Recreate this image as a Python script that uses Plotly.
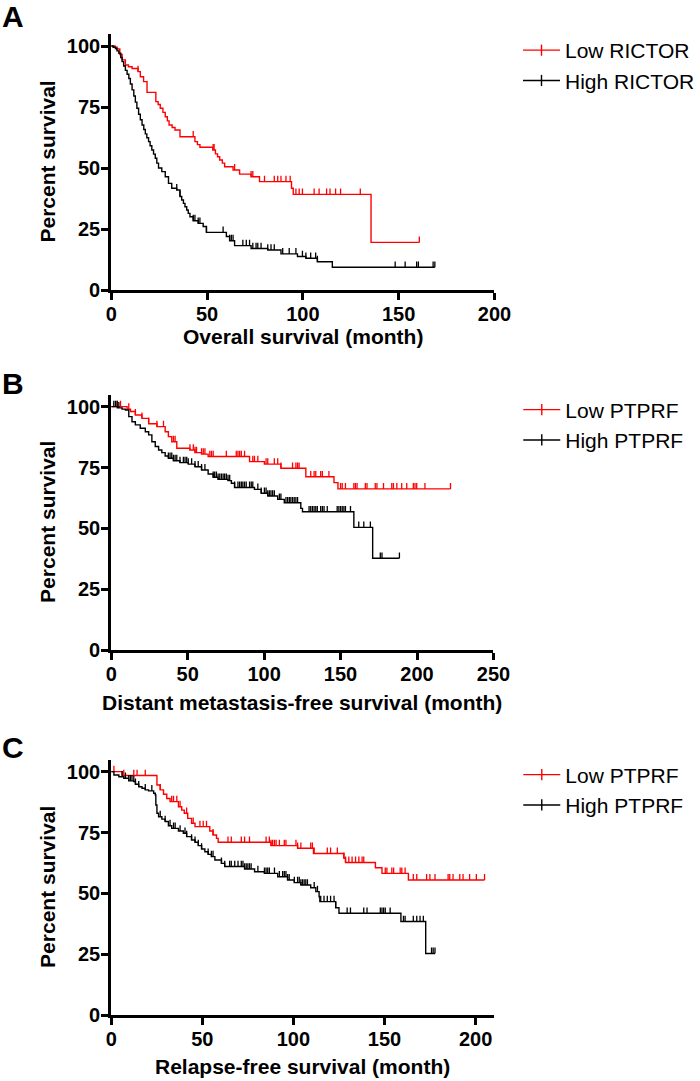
import numpy as np
import plotly.graph_objects as go

# ---------------- DATA ----------------
# Panel A: overall survival, RICTOR
A_low_t = [2.0, 3.1, 4.5, 5.7, 7.4, 9.0, 10.9, 14.0, 15.2, 16.9, 18.7, 23.3, 24.5, 25.6, 27.0, 28.2, 29.3, 30.2,
           31.8, 33.3, 35.9, 43.7, 45.0, 46.3, 53.0, 54.4, 55.5, 56.6, 58.0, 59.2, 63.6, 67.0, 73.0, 77.4, 94.1,
           95.0, 135.6]
A_low_s = [99.5, 98.8, 96.5, 94.3, 92.2, 91.5, 90.8, 89.5, 87.4, 85.4, 81.0, 77.2, 76.0, 74.5, 72.8, 71.0, 69.3,
           67.6, 66.6, 65.6, 62.8, 60.8, 59.6, 58.5, 57.4, 55.8, 54.6, 53.3, 52.0, 50.5, 49.2, 47.5, 46.4, 44.4,
           41.7, 39.2, 19.5]
A_low_cens = [14.0, 42.8, 53.2, 53.7, 64.4, 73.0, 73.9, 80.0, 85.1, 86.9, 88.6, 91.2, 93.4, 96.4, 98.1, 99.8,
              105.9, 108.5, 112.4, 114.2, 117.1, 119.7, 130.0, 160.8]

A_high_t = [1.0, 2.2, 3.0, 4.0, 5.0, 5.7, 6.5, 7.4, 8.3, 9.2, 10.0, 10.9, 11.8, 12.6, 13.4, 14.3, 15.2, 16.1,
            17.0, 17.8, 18.6, 19.5, 20.3, 21.2, 22.1, 23.0, 23.8, 24.7, 26.4, 28.2, 29.9, 31.6, 34.2, 35.9, 36.8,
            37.7, 38.5, 39.4, 40.2, 41.1, 42.8, 45.4, 48.0, 49.7, 60.1, 61.8, 64.4, 73.0, 81.7, 88.6, 97.2,
            101.6, 107.6, 115.4]
A_high_s = [99.5, 99.0, 98.0, 97.0, 95.3, 93.6, 91.8, 90.0, 88.4, 86.7, 84.4, 82.0, 79.5, 77.0, 74.5, 72.0,
            69.8, 67.6, 65.8, 64.0, 62.4, 60.8, 59.1, 57.4, 55.7, 54.0, 52.0, 50.0, 48.5, 46.4, 43.7, 41.7, 41.0,
            38.3, 36.9, 35.5, 34.1, 32.8, 31.4, 30.0, 28.4, 27.3, 26.0, 23.6, 21.9, 20.2, 18.2, 17.0, 16.4, 14.8,
            13.7, 13.0, 11.6, 9.3]
A_high_cens = [34.2, 35.9, 42.8, 43.7, 45.4, 46.3, 49.7, 58.4, 61.8, 62.7, 63.6, 68.7, 70.5, 72.2, 73.9, 75.6,
               76.5, 78.2, 81.7, 83.4, 85.1, 89.5, 92.9, 96.4, 99.8, 101.6, 104.1, 106.7, 107.6, 148.2, 153.4,
               159.4, 160.3, 168.0, 168.9]

# Panel B: distant metastasis-free survival, PTPRF
B_low_t = [10.4, 12.6, 15.8, 20.1, 24.5, 29.9, 35.3, 37.4, 39.6, 42.9, 51.5, 54.8, 59.1, 63.4, 90.5, 100.2,
           111.0, 127.3, 145.7, 148.3]
B_low_s = [99.0, 98.0, 96.6, 95.2, 93.0, 91.8, 89.7, 87.7, 85.6, 82.9, 82.2, 81.1, 80.5, 79.5, 77.4, 76.4, 74.7,
           71.2, 68.8, 66.2]
B_low_cens = [3.9, 6.1, 11.5, 15.8, 20.1, 24.5, 29.9, 34.2, 40.7, 41.8, 51.5, 53.7, 54.8, 55.8, 59.1, 60.2, 61.3,
              64.5, 65.6, 66.7, 75.3, 81.8, 82.9, 84.0, 85.1, 87.2, 92.6, 93.7, 95.9, 101.3, 102.4, 106.7, 108.9,
              111.0, 118.6, 120.8, 121.9, 122.9, 130.5, 132.7, 133.8, 137.0, 138.1, 142.4, 150.0, 151.1, 153.2,
              158.7, 159.7, 160.8, 166.2, 167.3, 172.7, 173.8, 178.1, 183.5, 184.6, 186.8, 190.0, 193.3, 197.6,
              198.7, 199.8, 205.2, 221.9]

B_high_t = [4.0, 7.1, 9.3, 11.5, 13.6, 15.8, 19.0, 22.3, 24.5, 26.6, 28.8, 31.0, 33.1, 35.3, 37.4, 40.7, 45.0,
            50.4, 54.8, 59.1, 63.4, 66.7, 69.9, 76.4, 78.6, 80.7, 93.7, 98.1, 102.4, 108.9, 113.2, 124.0, 125.1,
            158.7, 171.0]
B_high_s = [99.5, 99.0, 98.6, 95.9, 93.8, 92.5, 91.1, 89.7, 88.4, 85.6, 83.6, 82.2, 81.1, 79.7, 78.8, 77.8, 77.0,
            76.4, 75.3, 74.0, 72.3, 71.0, 70.1, 69.6, 68.5, 66.8, 66.0, 64.4, 63.3, 61.9, 60.5, 58.2, 56.8, 50.4,
            37.7]
B_high_cens = [1.7, 2.8, 3.9, 5.0, 37.4, 38.5, 39.6, 40.7, 41.8, 42.9, 45.0, 47.2, 48.3, 49.4, 50.4, 52.6, 54.8,
               56.9, 59.1, 61.3, 66.7, 67.7, 68.8, 69.9, 71.0, 72.1, 73.2, 74.2, 75.3, 76.4, 77.5, 80.7, 82.9, 84.0,
               85.1, 86.1, 87.2, 88.3, 90.5, 91.6, 92.6, 95.9, 98.1, 100.2, 101.3, 102.4, 103.5, 104.5, 105.6,
               106.7, 110.0, 111.0, 114.3, 115.4, 116.5, 117.5, 118.6, 119.7, 120.8, 121.9, 129.4, 130.5, 131.6,
               132.7, 133.8, 134.8, 137.0, 138.1, 139.2, 141.3, 147.8, 148.9, 150.0, 151.1, 152.2, 153.2, 156.5,
               161.9, 165.2, 169.5, 176.0, 177.1, 188.5]

# Panel C: relapse-free survival, PTPRF
C_low_t = [6.0, 25.1, 26.9, 28.7, 30.5, 32.3, 36.9, 38.7, 40.1, 42.0, 44.1, 46.0, 54.1, 55.9, 57.8, 58.7, 87.7,
           102.3, 111.0, 127.7, 128.6, 145.0, 148.6, 163.1]
C_low_s = [98.4, 94.5, 92.5, 90.7, 89.0, 87.7, 85.6, 84.2, 82.9, 80.8, 78.8, 77.4, 75.6, 74.0, 72.6, 71.0, 69.6,
           68.5, 66.4, 64.4, 62.7, 60.5, 58.2, 55.5]
C_low_cens = [1.5, 6.9, 12.4, 14.2, 18.7, 26.9, 33.2, 34.2, 36.0, 37.8, 41.4, 45.0, 48.7, 50.5, 52.3, 55.9, 64.1,
              65.9, 71.4, 73.2, 75.9, 85.0, 86.8, 87.7, 88.6, 89.6, 90.5, 92.3, 95.0, 95.9, 101.4, 102.3, 104.1,
              109.5, 110.4, 111.4, 118.6, 120.4, 124.1, 127.7, 128.6, 130.4, 132.2, 134.1, 135.9, 137.7, 138.6,
              150.4, 151.3, 154.0, 155.0, 158.6, 159.5, 161.3, 165.8, 167.7, 173.1, 174.9, 177.7, 184.9, 185.8,
              187.6, 191.3, 193.1, 196.7, 200.4, 204.9]

C_high_t = [1.5, 4.2, 6.9, 9.6, 12.4, 13.3, 15.1, 16.9, 18.7, 20.5, 23.3, 24.2, 24.5, 25.1, 26.0, 27.8, 29.6,
            31.4, 33.2, 36.9, 39.6, 41.4, 44.1, 46.0, 47.8, 49.6, 51.4, 53.2, 55.0, 56.9, 60.5, 62.3, 73.2, 78.7,
            84.1, 91.4, 96.8, 100.5, 104.1, 109.5, 112.3, 114.1, 114.5, 123.2, 125.0, 159.0, 172.6]
C_high_s = [98.6, 97.9, 97.3, 96.2, 95.9, 94.8, 93.8, 93.2, 92.5, 92.1, 91.1, 90.4, 86.3, 82.9, 81.5, 80.5, 79.5,
            77.8, 76.7, 75.6, 74.7, 73.3, 71.9, 71.0, 69.6, 68.2, 67.1, 66.0, 65.1, 63.7, 62.3, 61.0, 60.0, 58.9,
            58.2, 56.8, 55.5, 54.4, 53.4, 52.3, 50.7, 48.6, 46.6, 44.1, 41.8, 38.4, 25.3]
C_high_cens = [6.0, 7.8, 9.6, 10.5, 11.4, 12.4, 13.3, 15.1, 18.7, 22.3, 26.9, 29.6, 32.3, 34.2, 35.1, 37.8, 40.5,
               41.4, 44.1, 46.0, 47.8, 49.6, 53.2, 55.0, 55.9, 60.5, 62.3, 65.0, 65.9, 67.8, 69.6, 71.4, 72.3,
               73.2, 74.1, 75.0, 75.9, 76.8, 80.5, 84.1, 85.0, 85.9, 86.8, 89.6, 92.3, 94.1, 95.0, 95.9, 96.8,
               97.7, 100.5, 102.3, 103.2, 104.1, 105.0, 105.9, 106.8, 107.7, 111.4, 113.2, 115.0, 116.8, 118.6,
               120.4, 122.3, 123.2, 129.5, 131.3, 138.6, 140.4, 147.7, 148.6, 149.5, 150.4, 153.1, 160.4, 161.3,
               165.8, 167.7, 169.5, 171.3, 175.8, 176.7, 177.7]

panel_letters = ["A", "B", "C"]
x_titles = ["Overall survival (month)", "Distant metastasis-free survival (month)", "Relapse-free survival (month)"]
y_title = "Percent survival"
legend_names = [("Low RICTOR", "High RICTOR"), ("Low PTPRF", "High PTPRF"), ("Low PTPRF", "High PTPRF")]
x_ticks = [[0, 50, 100, 150, 200], [0, 50, 100, 150, 200, 250], [0, 50, 100, 150, 200]]
x_ranges = [[0, 200], [0, 250], [0, 210]]
y_ticks = [0, 25, 50, 75, 100]

curves = [
    ((A_low_t, A_low_s, A_low_cens), (A_high_t, A_high_s, A_high_cens)),
    ((B_low_t, B_low_s, B_low_cens), (B_high_t, B_high_s, B_high_cens)),
    ((C_low_t, C_low_s, C_low_cens), (C_high_t, C_high_s, C_high_cens)),
]

# ---------------- LAYOUT GEOMETRY (pixels) ----------------
W, H = 700, 1081
FONT = "Arial, 'Liberation Sans', Helvetica, sans-serif"
RED, BLACK = "#ff0000", "#000000"
boxes = [(112, 498, 33.8, 290), (112, 497, 394.5, 650), (112, 497.4, 759.5, 1015)]  # left, right, top, bottom
letter_mid = [16.5, 383, 747.5]
legend_tops = [30, 389.5, 754.5]
xtitle_mid = [337, 702, 1066]
ytitle_x = 48
TICK_H = 2.4


def surv_at(times, surv, t):
    i = np.searchsorted(np.asarray(times), t, side="right")
    return 100.0 if i == 0 else surv[i - 1]


fig = go.Figure()
layout = dict()
annotations = []
axis_font = dict(family=FONT, size=20, color="black", weight="bold")
title_font = dict(family=FONT, size=21, color="black", weight="bold")

for p in range(3):
    xa = "x" if p == 0 else f"x{p + 1}"
    ya = "y" if p == 0 else f"y{p + 1}"
    leg = "legend" if p == 0 else f"legend{p + 1}"
    for (times, surv, cens), color, name in zip(curves[p], [RED, BLACK], legend_names[p]):
        t_end = max(max(cens), max(times))
        xs = [0] + list(times) + [t_end]
        ys = [100] + list(surv) + [surv[-1]]
        fig.add_trace(go.Scatter(x=xs, y=ys, mode="lines", line=dict(color=color, width=1.4, shape="hv"),
                                 xaxis=xa, yaxis=ya, showlegend=False, hoverinfo="skip"))
        cy = [surv_at(times, surv, c) for c in cens]
        fig.add_trace(go.Scatter(x=cens, y=cy, mode="markers",
                                 marker=dict(size=1, color="rgba(0,0,0,0)"),
                                 error_y=dict(type="data", symmetric=False, array=[TICK_H] * len(cens),
                                              arrayminus=[0] * len(cens), width=0, thickness=1.3, color=color),
                                 xaxis=xa, yaxis=ya, showlegend=False, hoverinfo="skip"))
        # legend entry
        fig.add_trace(go.Scatter(x=[None], y=[None], mode="lines+markers", name=name,
                                 line=dict(color=color, width=1.4),
                                 marker=dict(symbol="line-ns", size=8, color=color,
                                             line=dict(color=color, width=1.4)),
                                 xaxis=xa, yaxis=ya, legend=leg))

    l, r, t, b = boxes[p]
    layout["xaxis" if p == 0 else f"xaxis{p + 1}"] = dict(
        domain=[l / W, r / W], range=x_ranges[p], anchor=ya, tickvals=x_ticks[p],
        showline=True, linewidth=3, linecolor="black", ticks="outside", ticklen=7, tickwidth=3,
        tickcolor="black", showgrid=False, zeroline=False, tickfont=axis_font, automargin=False,
        ticklabelstandoff=-3)
    layout["yaxis" if p == 0 else f"yaxis{p + 1}"] = dict(
        domain=[1 - b / H, 1 - t / H], range=[0, 105], anchor=xa, tickvals=y_ticks,
        showline=True, linewidth=3, linecolor="black", ticks="outside", ticklen=7, tickwidth=3,
        tickcolor="black", showgrid=False, zeroline=False, tickfont=axis_font, automargin=False,
        ticklabelstandoff=-3)
    layout[leg] = dict(x=522 / W, y=1 - legend_tops[p] / H, xanchor="left", yanchor="top",
                       font=dict(family=FONT, size=21, color="black"), bgcolor="rgba(0,0,0,0)",
                       itemwidth=37, tracegroupgap=0)
    # panel letter
    annotations.append(dict(text=panel_letters[p], x=0, y=1 - letter_mid[p] / H, xref="paper",
                            yref="paper", xanchor="left", yanchor="middle", showarrow=False,
                            font=dict(family=FONT, size=30, color="black", weight="bold")))
    # x-axis title
    annotations.append(dict(text=x_titles[p], x=(l + r) / 2 / W, y=1 - xtitle_mid[p] / H, xref="paper",
                            yref="paper", xanchor="center", yanchor="middle", showarrow=False,
                            font=title_font))
    # y-axis title
    annotations.append(dict(text=y_title, x=ytitle_x / W, y=1 - (t + b) / 2 / H, xref="paper",
                            yref="paper", xanchor="center", yanchor="middle", showarrow=False,
                            textangle=-90, font=title_font))

fig.update_layout(width=W, height=H, margin=dict(l=0, r=0, t=0, b=0), plot_bgcolor="white",
                  paper_bgcolor="white", annotations=annotations, **layout)
fig.write_html("out.html", config={"displayModeBar": False},
               post_script="document.body.style.margin='0';")
